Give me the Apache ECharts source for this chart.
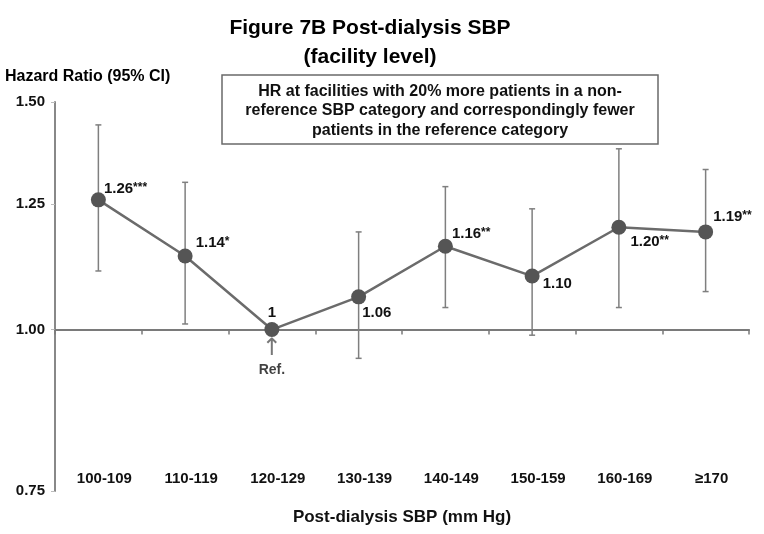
<!DOCTYPE html>
<html>
<head>
<meta charset="utf-8">
<script src="https://cdn.jsdelivr.net/npm/echarts@6/dist/echarts.min.js"></script>
<style>
  html, body { margin: 0; padding: 0; background: #fff; }
  #chart { width: 764px; height: 534px; }
</style>
</head>
<body>
<div id="chart"></div>
<script>
// SBP categories and facility-level hazard ratios
const categories = ['100-109', '110-119', '120-129', '130-139', '140-149', '150-159', '160-169', '≥170'];
const hr = [1.26, 1.14, 1.00, 1.06, 1.16, 1.10, 1.20, 1.19];
const ciLow = [1.11, 1.01, null, 0.95, 1.04, 0.99, 1.04, 1.07];
const ciHigh = [1.44, 1.30, null, 1.19, 1.29, 1.24, 1.38, 1.33];
const hrText = ['1.26', '1.14', '1', '1.06', '1.16', '1.10', '1.20', '1.19'];
const stars = ['***', '*', '', '', '**', '', '**', '**'];
const yTicks = [0.75, 1.00, 1.25, 1.50];
const refIndex = 2;

// where each value label sits relative to its point
const labelPlace = [
  { position: 'right', offset: [-2, -11] },
  { position: 'right', offset: [3, -13] },
  { position: 'top', offset: [0, 0] },
  { position: 'right', offset: [-4, 16] },
  { position: 'right', offset: [-1, -12] },
  { position: 'right', offset: [3, 8] },
  { position: 'right', offset: [4, 15] },
  { position: 'right', offset: [0, -15] }
];

const FONT = '"Liberation Sans", Arial, sans-serif';
const ln = Math.log;

var lineData = [];
for (var i = 0; i < hr.length; i++) {
  lineData.push({
    value: ln(hr[i]),
    label: {
      show: true,
      position: labelPlace[i].position,
      offset: labelPlace[i].offset,
      distance: labelPlace[i].position === 'top' ? 2 : 0,
      formatter: stars[i] ? '{v|' + hrText[i] + '}{s|' + stars[i] + '}' : '{v|' + hrText[i] + '}'
    }
  });
}

var barData = [];
for (var i = 0; i < hr.length; i++) {
  if (ciLow[i] == null) continue;
  barData.push([i, ln(ciLow[i]), ln(ciHigh[i])]);
}

var chart = echarts.init(document.getElementById('chart'));
chart.setOption({
  animation: false,
  textStyle: { fontFamily: FONT },
  grid: { left: 55, right: 15, top: 102, bottom: 43 },
  xAxis: [
    {
      type: 'category',
      data: categories,
      axisLine: { onZero: true, lineStyle: { color: '#7a7a7a', width: 2 } },
      axisTick: { show: true, length: 5, lineStyle: { color: '#7a7a7a', width: 1.5 } },
      axisLabel: { show: false },
      splitLine: { show: false }
    },
    {
      type: 'category',
      data: categories,
      position: 'bottom',
      axisLine: { show: false, onZero: false },
      axisTick: { show: false },
      axisLabel: {
        margin: -20,
        color: '#111',
        fontWeight: 'bold',
        fontSize: 15,
        fontFamily: FONT,
        padding: [0, 0, 0, 12]
      },
      name: 'Post-dialysis SBP (mm Hg)',
      nameLocation: 'middle',
      nameGap: 18,
      nameTextStyle: { color: '#111', fontWeight: 'bold', fontSize: 17, fontFamily: FONT }
    }
  ],
  yAxis: {
    type: 'value',
    min: ln(0.75),
    max: ln(1.5),
    axisLine: { show: true, lineStyle: { color: '#888', width: 2 } },
    axisTick: {
      show: true,
      length: 4,
      customValues: yTicks.map(ln),
      lineStyle: { color: '#bbb' }
    },
    axisLabel: {
      customValues: yTicks.map(ln),
      formatter: function (v) { return Math.exp(v).toFixed(2); },
      margin: 10,
      color: '#111',
      fontWeight: 'bold',
      fontSize: 15,
      fontFamily: FONT
    },
    splitLine: { show: false }
  },
  graphic: [
    {
      type: 'text', x: 370, y: 28,
      style: {
        text: 'Figure 7B Post-dialysis SBP', align: 'center', verticalAlign: 'middle',
        font: 'bold 21px ' + FONT, fill: '#000'
      }
    },
    {
      type: 'text', x: 370, y: 57,
      style: {
        text: '(facility level)', align: 'center', verticalAlign: 'middle',
        font: 'bold 21px ' + FONT, fill: '#000'
      }
    },
    {
      type: 'text', x: 5, y: 77,
      style: {
        text: 'Hazard Ratio (95% CI)', align: 'left', verticalAlign: 'middle',
        font: 'bold 16px ' + FONT, fill: '#000'
      }
    },
    {
      type: 'rect',
      shape: { x: 222, y: 75, width: 436, height: 69 },
      style: { fill: '#fff', stroke: '#6a6a6a', lineWidth: 1.5 },
      z: 10
    },
    {
      type: 'text', x: 440, y: 111, z: 11,
      style: {
        text: 'HR at facilities with 20% more patients in a non-\nreference SBP category and correspondingly fewer\npatients in the reference category',
        align: 'center', verticalAlign: 'middle', lineHeight: 19.5,
        font: 'bold 16px ' + FONT, fill: '#111'
      }
    }
  ],
  series: [
    {
      type: 'custom',
      xAxisIndex: 0,
      data: barData,
      encode: { x: 0, y: [1, 2] },
      z: 1,
      renderItem: function (params, api) {
        var x = api.value(0);
        var lo = api.coord([x, api.value(1)]);
        var hi = api.coord([x, api.value(2)]);
        var c = 3;
        var st = { stroke: '#7f7f7f', lineWidth: 1.5 };
        return {
          type: 'group',
          children: [
            { type: 'line', shape: { x1: lo[0], y1: lo[1], x2: hi[0], y2: hi[1] }, style: st },
            { type: 'line', shape: { x1: lo[0] - c, y1: lo[1], x2: lo[0] + c, y2: lo[1] }, style: st },
            { type: 'line', shape: { x1: hi[0] - c, y1: hi[1], x2: hi[0] + c, y2: hi[1] }, style: st }
          ]
        };
      }
    },
    {
      type: 'line',
      xAxisIndex: 0,
      data: lineData,
      z: 3,
      symbol: 'circle',
      symbolSize: 15,
      lineStyle: { color: '#6b6b6b', width: 2.5 },
      itemStyle: { color: '#555' },
      label: {
        rich: {
          v: { fontSize: 15, fontWeight: 'bold', color: '#111', fontFamily: FONT },
          s: { fontSize: 12, fontWeight: 'bold', color: '#111', fontFamily: FONT, verticalAlign: 'top' }
        }
      }
    },
    {
      type: 'scatter',
      xAxisIndex: 0,
      data: [[refIndex, ln(hr[refIndex])]],
      symbolSize: 1,
      itemStyle: { color: 'rgba(0,0,0,0)' },
      z: 4,
      label: {
        show: true,
        position: 'bottom',
        distance: 9,
        formatter: '{a|↑}\n{b|Ref.}',
        rich: {
          a: { fontSize: 24, color: '#555', fontFamily: 'DejaVu Sans', lineHeight: 20 },
          b: { fontSize: 14, fontWeight: 'bold', color: '#111', fontFamily: FONT, lineHeight: 22 }
        }
      }
    }
  ]
});
</script>
</body>
</html>
